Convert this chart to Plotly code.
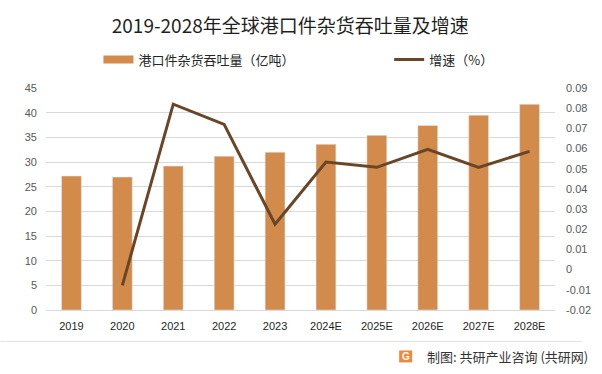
import plotly.graph_objects as go

years = ["2019", "2020", "2021", "2022", "2023", "2024E", "2025E", "2026E", "2027E", "2028E"]
throughput = [27.15, 26.95, 29.17, 31.19, 32.0, 33.6, 35.4, 37.4, 39.5, 41.7]
growth = [None, -0.0078, 0.082, 0.072, 0.0225, 0.0533, 0.0507, 0.0596, 0.0507, 0.0586]
left_ticks = [0, 5, 10, 15, 20, 25, 30, 35, 40, 45]
right_ticks = [-0.02, -0.01, 0, 0.01, 0.02, 0.03, 0.04, 0.05, 0.06, 0.07, 0.08, 0.09]
right_labels = ["-0.02", "-0.01", "0", "0.01", "0.02", "0.03", "0.04", "0.05", "0.06", "0.07", "0.08", "0.09"]

BAR = "#D38B4C"
LINE = "#6A4629"
FONT = "Noto Sans CJK SC"
NUMF = "Liberation Sans"

fig = go.Figure()
fig.add_trace(go.Bar(x=years, y=throughput, marker_color=BAR, width=0.39,
                     showlegend=False, yaxis="y"))
fig.add_trace(go.Scatter(x=[None], y=[None], mode="lines", name="港口件杂货吞吐量（亿吨）",
                         line=dict(color=BAR, width=8), legend="legend"))
fig.add_trace(go.Scatter(x=years, y=growth, mode="lines", name="增速（%）",
                         line=dict(color=LINE, width=3), yaxis="y2", legend="legend2"))

L, R, T, B = 45.5, 555, 87.6, 310.4
W, H = 602, 374
pw, ph = R - L, B - T

def px(x):
    return (x - L) / pw

def py(y):
    return (B - y) / ph

fig.update_layout(
    width=W, height=H,
    margin=dict(l=L, r=W - R, t=T, b=H - B, pad=0),
    paper_bgcolor="white", plot_bgcolor="white",
    font=dict(family=FONT, color="#404040"),
    title=dict(text="2019-2028年全球港口件杂货吞吐量及增速", x=px(290), xref="paper",
               xanchor="center", y=1 - 26 / H, yanchor="middle",
               font=dict(size=19, color="#1F1F1F", family=FONT)),
    xaxis=dict(type="category", showgrid=False, showline=False, zeroline=False,
               tickfont=dict(size=11, color="#1F1F1F", family=NUMF),
               ticks="", ticklabelstandoff=8),
    yaxis=dict(range=[0, 45], tickvals=left_ticks, showgrid=True, gridcolor="#D9D9D9",
               gridwidth=1, zeroline=True, zerolinecolor="#D9D9D9", zerolinewidth=1,
               showline=False, tickfont=dict(size=11, color="#595959", family=NUMF),
               ticks="", ticklabelstandoff=8),
    yaxis2=dict(range=[-0.02, 0.09], tickvals=right_ticks, ticktext=right_labels,
                overlaying="y", side="right", showgrid=False, zeroline=False,
                showline=False, tickfont=dict(size=11, color="#595959", family=NUMF),
                ticks="", ticklabelstandoff=10),
    legend=dict(orientation="h", x=px(98), xanchor="left", y=py(59), yanchor="middle",
                font=dict(size=13, color="#262626", family=FONT), itemwidth=30,
                bgcolor="rgba(0,0,0,0)"),
    legend2=dict(orientation="h", x=px(389), xanchor="left", y=py(59), yanchor="middle",
                 font=dict(size=13, color="#262626", family=FONT), itemwidth=30,
                 bgcolor="rgba(0,0,0,0)"),
)

# footer separator
fig.add_shape(type="line", xref="paper", yref="paper", x0=px(0), x1=px(582),
              y0=py(342), y1=py(342), line=dict(color="#E3E3E3", width=1))
# logo
fig.add_shape(type="rect", xref="paper", yref="paper", x0=px(399), x1=px(412),
              y0=py(351), y1=py(363), line=dict(width=0), fillcolor="#F08A3A")
fig.add_annotation(text="<b>G</b>", xref="paper", yref="paper", x=px(405.5), y=py(357),
                   showarrow=False, font=dict(size=10, color="white", family=NUMF),
                   xanchor="center", yanchor="middle")
fig.add_annotation(text="制图: 共研产业咨询 (共研网)", xref="paper", yref="paper",
                   x=px(590), y=py(357), xanchor="right", yanchor="middle", showarrow=False,
                   font=dict(size=13, color="#333333", family=FONT))

fig.write_html("out.html", config={"displayModeBar": False},
               post_script="document.body.style.margin='0';document.body.style.overflow='hidden';")
